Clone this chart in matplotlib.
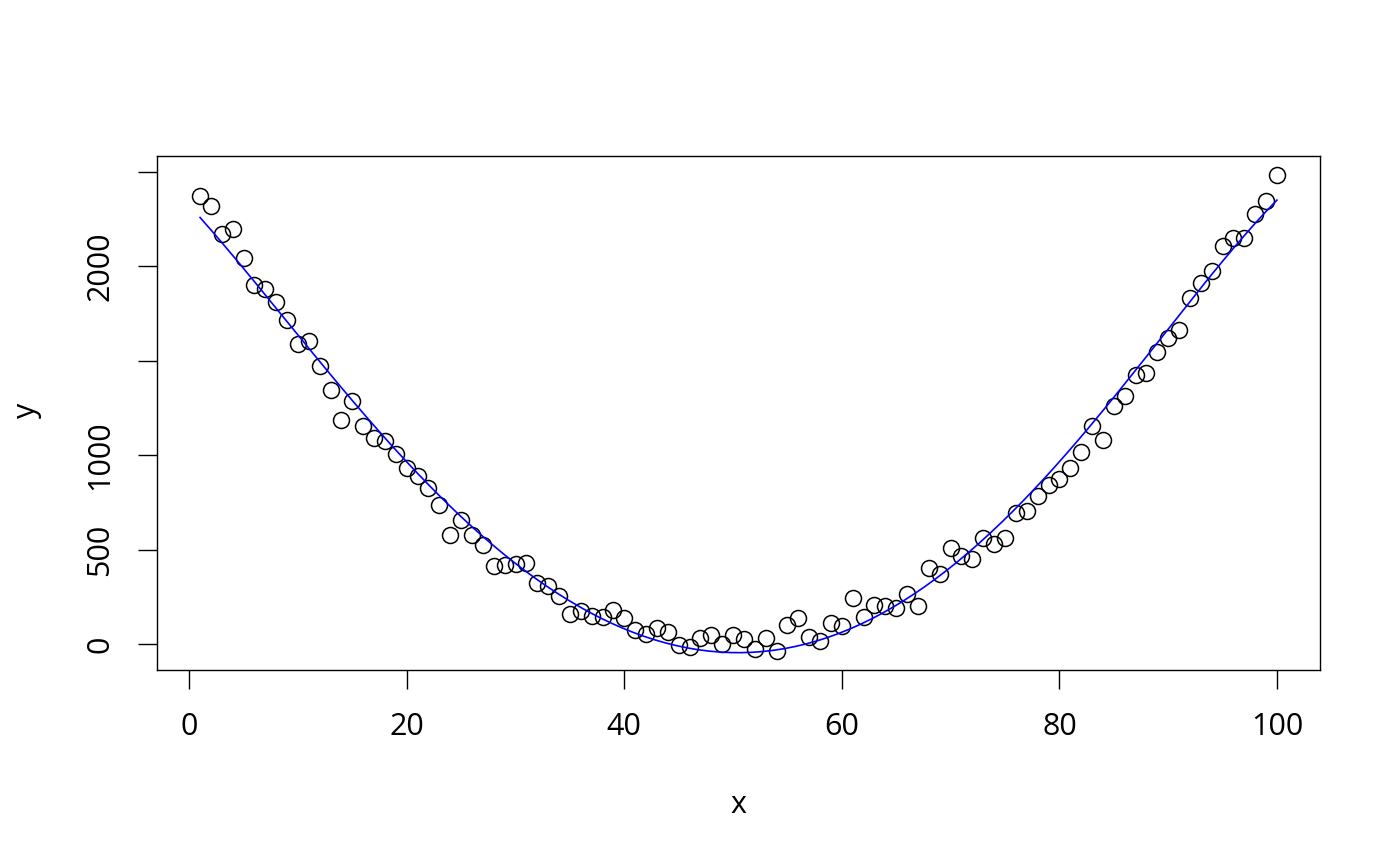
import numpy as np
import matplotlib
matplotlib.use("Agg")
import matplotlib.pyplot as plt
from numpy.polynomial import Polynomial

plt.rcParams['font.family'] = ['Open Sans', 'DejaVu Sans']

# observed points, x = 1..100
x = np.arange(1, 101)
y = np.array([
    2373, 2320, 2171, 2197, 2044, 1900, 1879, 1810, 1714, 1587,
    1603, 1470, 1343, 1189, 1285, 1157, 1093, 1077, 1008, 934,
    892, 828, 738, 579, 658, 579, 525, 414, 419, 425,
    430, 324, 308, 255, 159, 175, 149, 143, 180, 138,
    74, 53, 85, 64, -5, -16, 32, 48, 0, 48,
    27, -27, 32, -37, 101, 138, 37, 16, 111, 96,
    244, 143, 207, 202, 191, 265, 202, 403, 372, 510,
    467, 451, 563, 531, 563, 695, 706, 786, 844, 876,
    934, 1019, 1152, 1083, 1258, 1316, 1423, 1433, 1545, 1619,
    1661, 1831, 1911, 1975, 2107, 2150, 2150, 2277, 2346, 2484,
])

fit_x = [1, 5.6, 9.0, 12.05, 17.6, 19.4, 24.9, 30.45, 35.97, 37.8, 42.4,
         45.2, 50.7, 58.05, 62.0, 66.9, 71.5, 75.8, 79.5, 82.0, 92.1, 100]
fit_y = [2263, 1944, 1711, 1467, 1134, 1015, 679, 405, 193, 131, 25,
         -20, -46, 33, 122, 281, 467, 706, 918, 1104, 1830, 2348]

xticks = [0, 20, 40, 60, 80, 100]
yticks = [0, 500, 1000, 1500, 2000, 2500]
ytick_labels = ['0', '500', '1000', '', '2000', '']

# smooth the read-off line points so it draws without kinks
smooth = Polynomial.fit(fit_x, fit_y, 6)
xs = np.linspace(1, 100, 200)

fig = plt.figure(figsize=(14, 8.66), dpi=100)
ax = fig.add_axes([157/1400, 1-670/866, (1320-157)/1400, (670-156)/866])

ax.plot(x, y, 'o', mfc='none', mec='black', ms=11.5, mew=1.1)
ax.plot(xs, smooth(xs), color='blue', lw=1.2)

# R style 4% padding
def pad(lo, hi):
    d = (hi - lo) * 0.04
    return lo - d, hi + d

ax.set_xlim(*pad(x.min(), x.max()))
ax.set_ylim(*pad(y.min(), y.max()))

ax.set_xticks(xticks)
ax.set_xticklabels([str(t) for t in xticks])
ax.set_yticks(yticks)
ax.set_yticklabels(ytick_labels, rotation=90, va='center')
ax.tick_params(length=14, width=1.0, labelsize=22, pad=16)
for s in ax.spines.values():
    s.set_linewidth(1.0)

fig.text(738/1400, 1-805/866, 'x', fontsize=22, ha='center', va='center')
fig.text(27/1400, 1-410/866, 'y', fontsize=22, ha='center', va='center', rotation=90)

fig.savefig('out.png', dpi=100)
